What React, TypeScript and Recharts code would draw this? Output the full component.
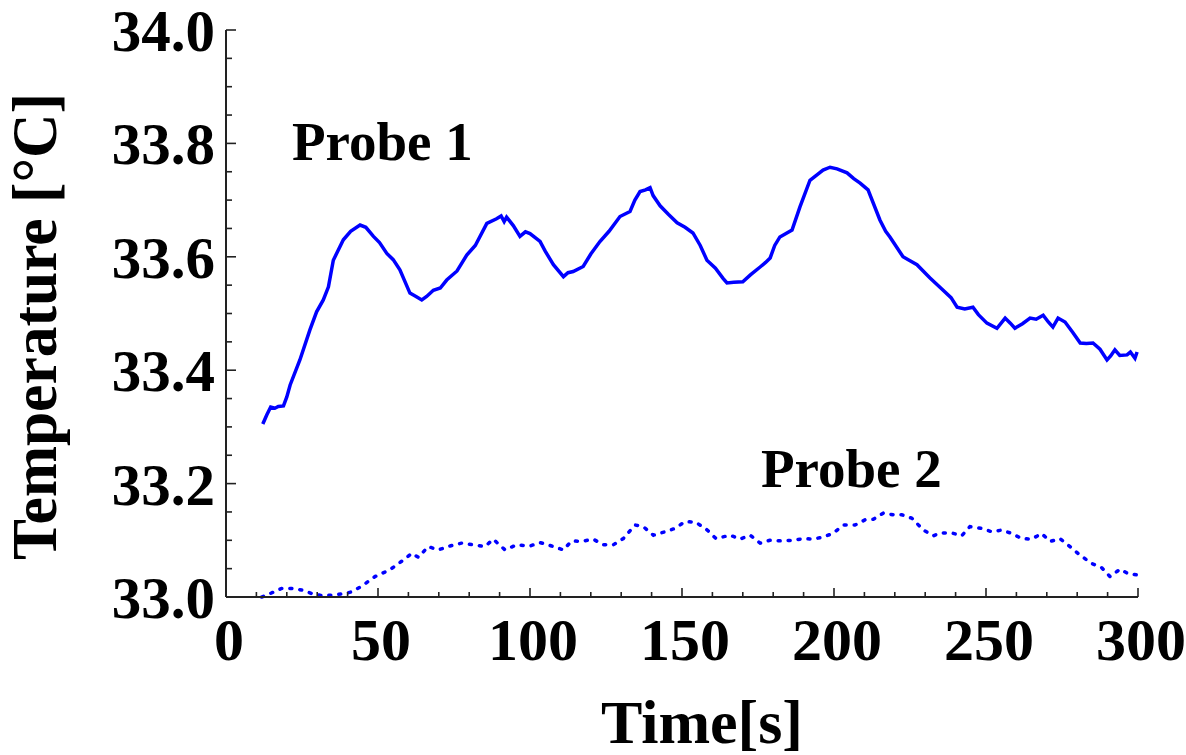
import React from 'react';
import { LineChart, Line, XAxis, YAxis, Label, Customized } from 'recharts';

// [time s, temperature °C]
const probe1: [number, number][] = [
  [12.1, 33.305], [13.4, 33.321], [14.7, 33.335], [16.1, 33.333], [17.2, 33.336],
  [18.9, 33.337], [20.0, 33.353], [21.1, 33.374], [24.3, 33.418], [27.6, 33.471],
  [29.8, 33.503], [32.0, 33.524], [33.7, 33.547], [35.3, 33.594], [38.6, 33.63],
  [41.0, 33.645], [44.1, 33.656], [46.0, 33.652], [48.5, 33.636], [50.5, 33.625],
  [52.9, 33.606], [55.0, 33.595], [57.2, 33.577], [60.5, 33.536], [62.5, 33.53],
  [64.4, 33.524], [66.0, 33.53], [68.2, 33.541], [70.5, 33.545], [72.6, 33.559],
  [76.0, 33.575], [79.2, 33.603], [82.0, 33.62], [85.8, 33.659], [89.0, 33.667],
  [90.5, 33.672], [91.5, 33.662], [92.3, 33.67], [94.5, 33.655], [96.7, 33.636],
  [98.5, 33.644], [100.0, 33.641], [103.3, 33.627], [105.0, 33.61], [107.7, 33.586],
  [111.0, 33.565], [112.5, 33.572], [114.2, 33.574], [117.5, 33.583], [120.0, 33.605],
  [123.0, 33.627], [126.0, 33.645], [129.6, 33.671], [132.9, 33.68], [134.5, 33.7],
  [136.2, 33.715], [138.0, 33.718], [139.5, 33.722], [140.5, 33.708], [142.8, 33.69],
  [145.5, 33.675], [148.4, 33.66], [151.0, 33.652], [153.6, 33.642], [156.0, 33.62],
  [158.2, 33.594], [161.0, 33.58], [163.5, 33.562], [164.8, 33.554], [167.0, 33.555],
  [170.0, 33.556], [172.5, 33.568], [175.7, 33.582], [177.5, 33.59], [179.0, 33.598],
  [180.5, 33.62], [182.2, 33.635], [186.2, 33.647], [188.8, 33.688], [192.1, 33.735],
  [194.5, 33.745], [196.4, 33.753], [198.7, 33.758], [201.0, 33.755], [204.3, 33.748],
  [206.5, 33.738], [208.6, 33.73], [211.2, 33.718], [215.1, 33.665], [217.0, 33.645],
  [218.4, 33.635], [222.7, 33.6], [225.0, 33.593], [227.3, 33.586], [231.5, 33.563],
  [235.9, 33.541], [238.5, 33.528], [240.5, 33.511], [243.0, 33.508], [245.7, 33.511],
  [247.5, 33.498], [250.3, 33.483], [253.6, 33.474], [256.3, 33.492], [258.0, 33.483],
  [259.5, 33.474], [262.0, 33.482], [264.5, 33.492], [266.5, 33.49], [268.8, 33.497],
  [270.5, 33.485], [272.0, 33.476], [273.7, 33.492], [276.0, 33.485], [278.5, 33.467],
  [281.0, 33.448], [283.0, 33.447], [285.2, 33.448], [287.5, 33.437], [289.8, 33.418],
  [291.0, 33.425], [292.4, 33.436], [294.0, 33.426], [296.4, 33.427], [297.5, 33.432],
  [299.0, 33.421], [299.7, 33.432],
];

const probe2: [number, number][] = [
  [11.7, 33.0], [14.5, 33.006], [18.3, 33.015], [21.6, 33.015], [25.4, 33.012],
  [28.2, 33.006], [32.0, 33.002], [35.9, 33.004], [39.1, 33.006], [41.3, 33.009],
  [44.6, 33.019], [49.0, 33.036], [53.9, 33.048], [58.3, 33.065], [61.1, 33.077],
  [63.3, 33.07], [66.5, 33.089], [69.8, 33.083], [73.7, 33.09], [77.5, 33.095],
  [81.4, 33.092], [85.2, 33.089], [87.9, 33.102], [91.8, 33.083], [95.6, 33.092],
  [100.0, 33.09], [103.3, 33.096], [107.1, 33.09], [111.0, 33.083], [113.7, 33.099],
  [117.0, 33.098], [120.8, 33.102], [124.1, 33.092], [127.4, 33.092], [130.7, 33.103],
  [134.5, 33.127], [137.3, 33.124], [140.6, 33.109], [144.4, 33.115], [147.7, 33.121],
  [151.0, 33.133], [154.5, 33.132], [158.1, 33.119], [161.2, 33.103], [165.8, 33.109],
  [169.1, 33.102], [172.4, 33.109], [175.7, 33.095], [178.9, 33.1], [182.2, 33.099],
  [186.6, 33.1], [189.9, 33.103], [193.2, 33.102], [196.5, 33.106], [199.6, 33.112],
  [203.1, 33.127], [206.9, 33.127], [210.2, 33.136], [212.9, 33.137], [216.2, 33.148],
  [219.5, 33.145], [222.3, 33.145], [225.6, 33.139], [229.4, 33.118], [232.7, 33.108],
  [234.9, 33.113], [238.7, 33.113], [242.0, 33.108], [244.7, 33.124], [248.6, 33.121],
  [251.9, 33.115], [255.2, 33.118], [258.5, 33.112], [261.7, 33.103], [265.0, 33.102],
  [268.3, 33.112], [271.1, 33.098], [274.3, 33.103], [277.6, 33.089], [280.9, 33.074],
  [284.8, 33.059], [288.0, 33.052], [290.8, 33.036], [294.1, 33.049], [296.8, 33.041],
  [299.6, 33.039],
];

const xMajorTicks = [0, 50, 100, 150, 200, 250, 300];
const xTicks = [
  0, 10, 20, 30, 40, 50, 60, 70, 80, 90, 100, 110, 120, 130, 140, 150,
  160, 170, 180, 190, 200, 210, 220, 230, 240, 250, 260, 270, 280, 290, 300,
];
const yMajorTicks = [33.0, 33.2, 33.4, 33.6, 33.8, 34.0];
const yTicks = [
  33.0, 33.05, 33.1, 33.15, 33.2, 33.25, 33.3, 33.35, 33.4, 33.45, 33.5,
  33.55, 33.6, 33.65, 33.7, 33.75, 33.8, 33.85, 33.9, 33.95, 34.0,
];

const FONT = "'Liberation Serif', 'Times New Roman', serif";
const BLUE = '#0000ff';
const AXIS = '#222';

const toRows = (pts: [number, number][]) => pts.map(([t, temp]) => ({ t, temp }));

const XTick = (props: any) => {
  const { x, y, payload } = props;
  const major = xMajorTicks.includes(payload.value);
  return (
    <g>
      <line x1={x} x2={x} y1={y} y2={y - (major ? 9 : 5)} stroke={AXIS} strokeWidth={1.6} />
      {major && (
        <text x={x + 3} y={y + 63} textAnchor="middle" fontFamily={FONT} fontWeight="bold" fontSize={60} fill="#000">
          {payload.value}
        </text>
      )}
    </g>
  );
};

const YTick = (props: any) => {
  const { x, y, payload } = props;
  const major = yMajorTicks.includes(payload.value);
  return (
    <g>
      <line x1={x} x2={x + (major ? 10 : 6)} y1={y} y2={y} stroke={AXIS} strokeWidth={1.6} />
      {major && (
        <text x={x - 11} y={y + 21} textAnchor="end" fontFamily={FONT} fontWeight="bold" fontSize={59} fill="#000">
          {payload.value.toFixed(1)}
        </text>
      )}
    </g>
  );
};

const ProbeLabels = () => (
  <g fontFamily={FONT} fontWeight="bold" fontSize={55} fill="#000">
    <text x={292} y={160}>Probe 1</text>
    <text x={761} y={487}>Probe 2</text>
  </g>
);

export default function App() {
  return (
    <div style={{ position: 'absolute', left: 0, top: 0, background: '#fff' }}>
      <LineChart width={1186} height={755} margin={{ top: 30, right: 48, bottom: 0, left: 0 }}>
        <XAxis
          type="number"
          dataKey="t"
          domain={[0, 300]}
          ticks={xTicks}
          interval={0}
          height={158}
          tickSize={0}
          tickMargin={0}
          tickLine={false}
          axisLine={{ stroke: AXIS, strokeWidth: 2 }}
          tick={<XTick />}
        >
          <Label
            content={({ viewBox }: any) => (
              <text
                x={viewBox.x + viewBox.width / 2 + 20}
                y={viewBox.y + 146}
                textAnchor="middle"
                fontFamily={FONT}
                fontWeight="bold"
                fontSize={62}
                fill="#000"
              >
                Time[s]
              </text>
            )}
          />
        </XAxis>
        <YAxis
          type="number"
          domain={[33, 34]}
          ticks={yTicks}
          interval={0}
          width={226}
          tickSize={0}
          tickMargin={0}
          tickLine={false}
          axisLine={{ stroke: AXIS, strokeWidth: 2 }}
          tick={<YTick />}
        >
          <Label
            content={({ viewBox }: any) => {
              const cx = viewBox.x + 56;
              const cy = viewBox.y + viewBox.height / 2 + 13;
              return (
                <text
                  x={cx}
                  y={cy}
                  transform={`rotate(-90, ${cx}, ${cy})`}
                  textAnchor="middle"
                  fontFamily={FONT}
                  fontWeight="bold"
                  fontSize={63}
                  textLength={467}
                  lengthAdjust="spacingAndGlyphs"
                  fill="#000"
                >
                  Temperature [°C]
                </text>
              );
            }}
          />
        </YAxis>
        <Line
          data={toRows(probe1)}
          dataKey="temp"
          type="linear"
          stroke={BLUE}
          strokeWidth={3.5}
          dot={false}
          isAnimationActive={false}
        />
        <Line
          data={toRows(probe2)}
          dataKey="temp"
          type="linear"
          stroke={BLUE}
          strokeWidth={3.5}
          strokeDasharray="2 8"
          strokeLinecap="round"
          dot={false}
          isAnimationActive={false}
        />
        <Customized component={ProbeLabels} />
      </LineChart>
    </div>
  );
}
